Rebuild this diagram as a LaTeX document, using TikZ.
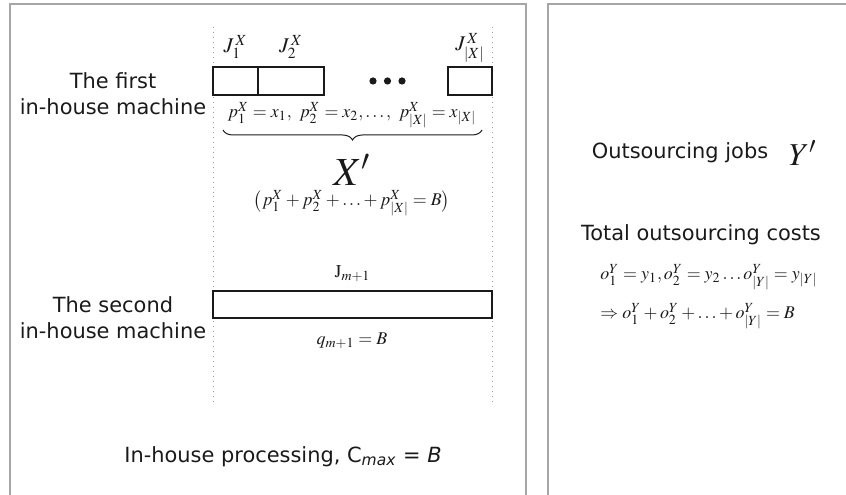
\documentclass[tikz,border=0pt]{standalone}
\usepackage{mathptmx}
\usepackage[no-math]{fontspec}
\setmainfont{DejaVu Sans}
\usetikzlibrary{positioning,decorations.pathreplacing}
\definecolor{panelgray}{HTML}{A6A6A6}
\definecolor{guidegray}{HTML}{9A9A9A}
\definecolor{ink}{HTML}{1A1A1A}
\tikzset{
  panel/.style={draw=panelgray, line width=1bp},
  guideline/.style={draw=guidegray, dotted, line width=0.5bp},
  jobbox/.style={draw=ink, line width=0.6bp, inner sep=0pt, minimum height=14bp},
  lbl/.style={font=\fontsize{10.5}{13}\selectfont, align=center, text=ink, inner sep=0pt},
  eq/.style={font=\fontsize{9}{11}\selectfont, inner sep=0pt, text=ink},
  joblbl/.style={font=\fontsize{10.5}{12}\selectfont, inner sep=0pt, text=ink},
  smalleq/.style={font=\fontsize{9}{11}\selectfont, inner sep=0pt, text=ink},
}

\begin{document}
\begin{tikzpicture}[x=0.5bp,y=-0.5bp]
  \useasboundingbox (0,0) rectangle (846,495);
  % two panels
  \draw[panel] (10,495) -- (10,4) -- (526,4) -- (526,495);
  \draw[panel] (548,495) -- (548,4) -- (846,4);
  \draw[guideline] (213,27) -- (213,405);
  \draw[guideline] (492,27) -- (492,405);

  % first in-house machine
  \node[lbl] (m1) at (113,94) {The first\\in-house machine};
  \node[jobbox, minimum width=22.5bp] (j1) at (235.5,81) {};
  \node[jobbox, minimum width=33bp] (j2) at (291,81) {};
  \node[jobbox, minimum width=22bp] (jx) at (470,81) {};
  \foreach \d in {373,387.5,402} \fill[ink] (\d,81) circle (1.8bp);
  \node[joblbl, above=3.5bp of j1] (lj1) {$J_1^{\,X}$};
  \node[joblbl, above=3.5bp of j2] (lj2) {$J_2^{\,X}$};
  \node[joblbl, above=2bp of jx] (ljx) {$J_{|X|}^{\,X}$};
  \node[eq] (px) at (352,115) {$p_1^X=x_1,\ p_2^X=x_2,\ldots,\ p_{|X|}^X=x_{|X|}$};
  \draw[ink, line width=0.5bp, decorate, decoration={brace, mirror, amplitude=5bp}]
    (223,130) -- (482,130);
  \node[font=\fontsize{20}{22}\selectfont, inner sep=0pt, text=ink] (xs) at (352,170) {$X'$};
  \node[eq, below=2bp of xs] (sumx) {$\bigl(p_1^X+p_2^X+\ldots+p_{|X|}^X=B\bigr)$};

  % second in-house machine
  \node[lbl] (m2) at (113,318) {The second\\in-house machine};
  \node[jobbox, minimum width=139.5bp, minimum height=13.5bp] (jm) at (352.5,304.5) {};
  \node[eq, above=4bp of jm] (ljm) {$\mathrm{J}_{m+1}$};
  \node[eq] (qm) at (352,341) {$q_{m+1}=B$};

  \node[lbl] (ih) at (283,457) {In-house processing, C\textsubscript{\itshape max} = \textit{B}};

  % outsourcing
  \node[lbl] (oj) at (680,153) {Outsourcing jobs};
  \node[font=\fontsize{16}{18}\selectfont, inner sep=0pt, text=ink, right=10bp of oj] (ys) {$Y'$};
  \node[lbl] (tc) at (701,235) {Total outsourcing costs};
  \node[smalleq, anchor=west] (oy) at (600,277) {$o_1^Y=y_1,o_2^Y=y_2\ldots o_{|Y|}^Y=y_{|Y|}$};
  \node[smalleq, anchor=west] (sumy) at (600,316) {$\Rightarrow o_1^Y+o_2^Y+\ldots+o_{|Y|}^Y=B$};
\end{tikzpicture}
\end{document}
